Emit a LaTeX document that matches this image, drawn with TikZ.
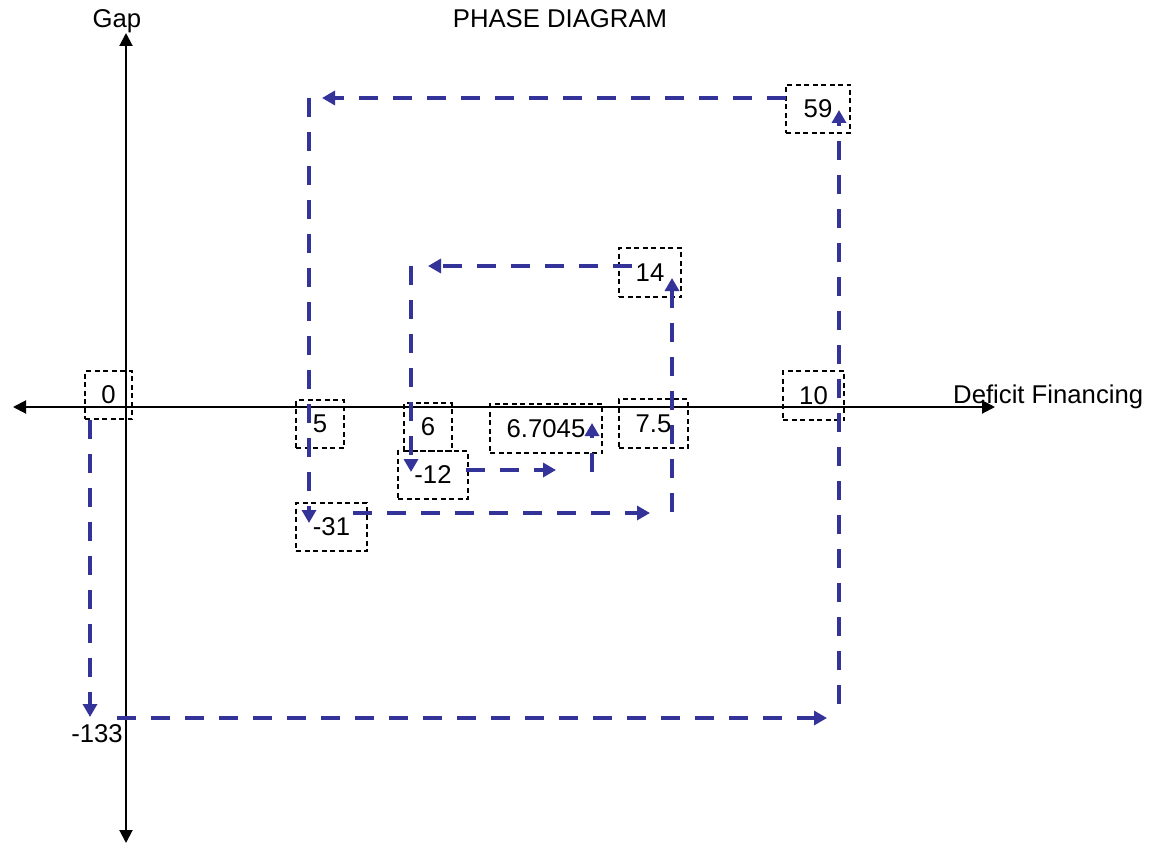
\documentclass[tikz,border=0pt]{standalone}
\usepackage{fontspec}
\setmainfont{Liberation Sans}
\usetikzlibrary{arrows.meta}
\definecolor{pathblue}{RGB}{51,51,153}
\begin{document}
\begin{tikzpicture}[x=1pt,y=-1pt,
  every node/.style={font=\fontsize{25.7}{30}\selectfont, inner sep=0pt},
  axis/.style={draw=black, line width=2pt, {Triangle[length=13pt,width=13pt]}-{Triangle[length=13pt,width=13pt]}},
  valbox/.style={draw=black, line width=1.3pt, dash pattern=on 5pt off 3.5pt, minimum height=48pt},
  flow/.style={draw=pathblue, line width=4pt, dash pattern=on 19pt off 15pt, -{Triangle[length=13pt,width=14pt]}}]
\useasboundingbox (0,0) rectangle (1155,845);
% axes
\coordinate (xl) at (13,407);
\coordinate (xr) at (995,407);
\coordinate (yt) at (126,33);
\coordinate (yb) at (126,843);
\draw[axis] (xl) -- (xr);
\draw[axis] (yb) -- (yt);
% texts
\node[anchor=base] (gap) at (117,28) {Gap};
\node[anchor=base] (title) at (560,28) {PHASE DIAGRAM};
\node[anchor=base west] (xlab) at (953,403) {Deficit Financing};
\node (m133) at (97,734) {-133};
% value boxes
\node[valbox, minimum width=47pt] (b0) at (108.5,395) {0};
\node[valbox, minimum width=48pt] (b5) at (320,424) {5};
\node[valbox, minimum width=71pt] (b31) at (331.5,527) {-31};
\node[valbox, minimum width=48pt] (b6) at (428,427) {6};
\node[valbox, minimum width=70pt] (b12) at (433,475) {-12};
\node[valbox, minimum width=112pt, minimum height=49pt] (b67) at (546,428.5) {6.7045};
\node[valbox, minimum width=69pt, minimum height=49pt] (b75) at (653.5,423.5) {7.5};
\node[valbox, minimum width=62pt, minimum height=49pt] (b14) at (650,272.5) {14};
\node[valbox, minimum width=64pt] (b59) at (818,109) {59};
\node[valbox, minimum width=61pt, minimum height=49pt] (b10) at (813.5,395.5) {10};
% flow corners
\coordinate (p1a) at (90,420);  \coordinate (p1b) at (90,717);
\coordinate (p2a) at (117,718); \coordinate (p2b) at (827,718);
\coordinate (p3a) at (839,704); \coordinate (p3b) at (839,110);
\coordinate (p4a) at (786,98);  \coordinate (p4b) at (322,98);
\coordinate (p5a) at (309,98);  \coordinate (p5b) at (309,523);
\coordinate (p6a) at (353,513); \coordinate (p6b) at (650,513);
\coordinate (p7a) at (672,512); \coordinate (p7b) at (672,278);
\coordinate (p8a) at (632,266); \coordinate (p8b) at (428,266);
\coordinate (p9a) at (411,266); \coordinate (p9b) at (411,472);
\coordinate (p10a) at (466,470); \coordinate (p10b) at (556,470);
\coordinate (p11a) at (592,472); \coordinate (p11b) at (592,423);
\draw[flow] (p1a) -- (p1b);
\draw[flow] (p2a) -- (p2b);
\draw[flow] (p3a) -- (p3b);
\draw[flow] (p4a) -- (p4b);
\draw[flow] (p5a) -- (p5b);
\draw[flow] (p6a) -- (p6b);
\draw[flow] (p7a) -- (p7b);
\draw[flow] (p8a) -- (p8b);
\draw[flow] (p9a) -- (p9b);
\draw[flow] (p10a) -- (p10b);
\draw[flow] (p11a) -- (p11b);
\end{tikzpicture}
\end{document}
